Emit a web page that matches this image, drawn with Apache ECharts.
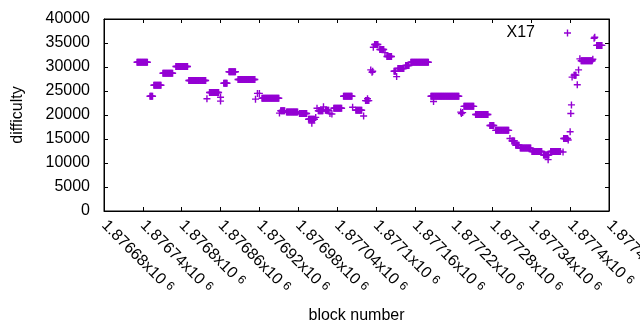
<!DOCTYPE html>
<html>
<head>
<meta charset="utf-8">
<script src="https://cdn.jsdelivr.net/npm/echarts@6/dist/echarts.min.js"></script>
<style>
html,body{margin:0;padding:0;background:#fff;}
#main{width:640px;height:330px;}
</style>
</head>
<body>
<div id="main"></div>
<script>
// runs of blocks with the same difficulty (first block, last block, difficulty)
var runStart = [1876731,1876751,1876757,1876771,1876791,1876811,1876843,1876865,1876873,1876887,
    1876924,1876953,1876962,1876982,1876996,1877011,1877022,1877035,1877050,1877069,
    1877084,1877098,1877106,1877117,1877134,1877146,1877154,1877185,1877236,1877254,
    1877276,1877285,1877310,1877316,1877323,1877341,1877359,1877370,1877390,1877406,
    1877417,1877441];
var runEnd = [1876747,1876755,1876768,1876786,1876809,1876837,1876857,1876870,1876883,1876913,
    1876950,1876959,1876979,1876993,1877005,1877018,1877027,1877047,1877063,1877078,
    1877089,1877103,1877112,1877124,1877143,1877151,1877181,1877228,1877251,1877273,
    1877282,1877305,1877314,1877321,1877339,1877356,1877367,1877385,1877396,1877409,
    1877434,1877449];
var runDiff = [31000,23900,26200,28700,30100,27200,24700,26600,29000,27400,
    23500,20900,20600,20300,19100,20900,21000,21400,23900,21000,
    23000,34700,33650,32200,29700,30300,31000,23900,21800,20100,
    17800,16800,14600,13700,13100,12400,11650,12400,15100,28300,
    31300,34500];

// single blocks
var pointBlock = [1876839,1876860,1876860,1876914,1876917,1876920,1876951,1877001,1877007,1877009,
    1877019,1877029,1877032,1877064,1877081,1877087,1877092,1877094,1877095,1877096,
    1877114,1877128,1877129,1877130,1877132,1877189,1877231,1877232,1877234,1877307,
    1877366,1877389,1877397,1877400,1877401,1877402,1877403,1877411,1877413,1877415,
    1877435,1877437,1877438];
var pointDiff = [23400,23700,22900,23300,24500,24500,20400,18300,19500,21400,
    21700,20300,20200,21600,19800,23400,29400,28900,29100,34100,
    33000,29100,29100,29100,28000,22800,20600,20300,20500,15100,
    10700,12300,14800,16500,20300,22100,27900,26300,29400,31700,
    31600,36000,36200];

var xMin = 1876680, xMax = 1877460, xStep = 60;
var xTickLabels = ['1.87668','1.87674','1.8768','1.87686','1.87692','1.87698','1.87704',
    '1.8771','1.87716','1.87722','1.87728','1.87734','1.8774','1.87746'];
var yTicks = [0,5000,10000,15000,20000,25000,30000,35000,40000];

var data = [];
runStart.forEach(function(s, i){
    for (var b = s; b <= runEnd[i]; b++) data.push([b, runDiff[i]]);
});
pointBlock.forEach(function(b, i){ data.push([b, pointDiff[i]]); });

var plus = 'path://M2.8,0h1.4v2.8h2.8v1.4h-2.8v2.8h-1.4v-2.8h-2.8v-1.4h2.8z';
var purple = '#9400d3';
var font = 'Liberation Sans, Arial, sans-serif';

function axisLine(){ return {show: true, onZero: false, lineStyle: {color: '#000', width: 1}}; }
function axisTick(){ return {show: true, inside: true, length: 4, lineStyle: {color: '#000'}}; }

var myChart = echarts.init(document.getElementById('main'));
var option = {
    animation: false,
    textStyle: {fontFamily: font},
    grid: {left: 104, right: 31, top: 19, bottom: 119, outerBoundsMode: 'none', containLabel: false,
        show: true, borderColor: '#000', borderWidth: 1},
    legend: {
        data: ['X17'],
        right: 64,
        top: 20,
        align: 'right',
        icon: plus,
        itemWidth: 7,
        itemHeight: 7,
        textStyle: {color: '#000', fontSize: 16, fontFamily: font, padding: [0, 24, 0, 0]}
    },
    xAxis: [{
        type: 'value',
        min: xMin, max: xMax, interval: xStep,
        name: 'block number',
        nameLocation: 'middle',
        nameGap: 97,
        nameTextStyle: {color: '#000', fontSize: 16, fontFamily: font},
        axisLine: axisLine(),
        axisTick: axisTick(),
        splitLine: {show: false},
        axisLabel: {
            rotate: -45,
            margin: 12,
            color: '#000',
            hideOverlap: false,
            formatter: function(v){
                return '{a|' + xTickLabels[Math.round((v - xMin) / xStep)] + 'x10 }{b|6}';
            },
            rich: {
                a: {fontSize: 16, fontFamily: font, color: '#000'},
                b: {fontSize: 12, fontFamily: font, color: '#000', verticalAlign: 'top'}
            }
        }
    }, {
        type: 'value', position: 'top',
        min: xMin, max: xMax, interval: xStep,
        axisLine: axisLine(),
        axisTick: axisTick(),
        axisLabel: {show: false},
        splitLine: {show: false}
    }],
    yAxis: [{
        type: 'value',
        min: yTicks[0], max: yTicks[yTicks.length - 1], interval: 5000,
        name: 'difficulty',
        nameLocation: 'middle',
        nameGap: 78,
        nameTextStyle: {color: '#000', fontSize: 16, fontFamily: font},
        axisLine: axisLine(),
        axisTick: axisTick(),
        splitLine: {show: false},
        axisLabel: {color: '#000', fontSize: 16, margin: 14, formatter: function(v){ return String(v); }}
    }, {
        type: 'value', position: 'right',
        min: yTicks[0], max: yTicks[yTicks.length - 1], interval: 5000,
        axisLine: axisLine(),
        axisTick: axisTick(),
        axisLabel: {show: false},
        splitLine: {show: false}
    }],
    series: [{
        name: 'X17',
        type: 'scatter',
        xAxisIndex: 0,
        yAxisIndex: 0,
        symbol: plus,
        symbolSize: 7,
        itemStyle: {color: purple, opacity: 1},
        emphasis: {disabled: true},
        data: data
    }, {
        // empty series so the mirrored top/right axes get drawn
        name: 'mirror',
        type: 'scatter',
        xAxisIndex: 1,
        yAxisIndex: 1,
        silent: true,
        data: []
    }]
};
myChart.setOption(option);
</script>
</body>
</html>
